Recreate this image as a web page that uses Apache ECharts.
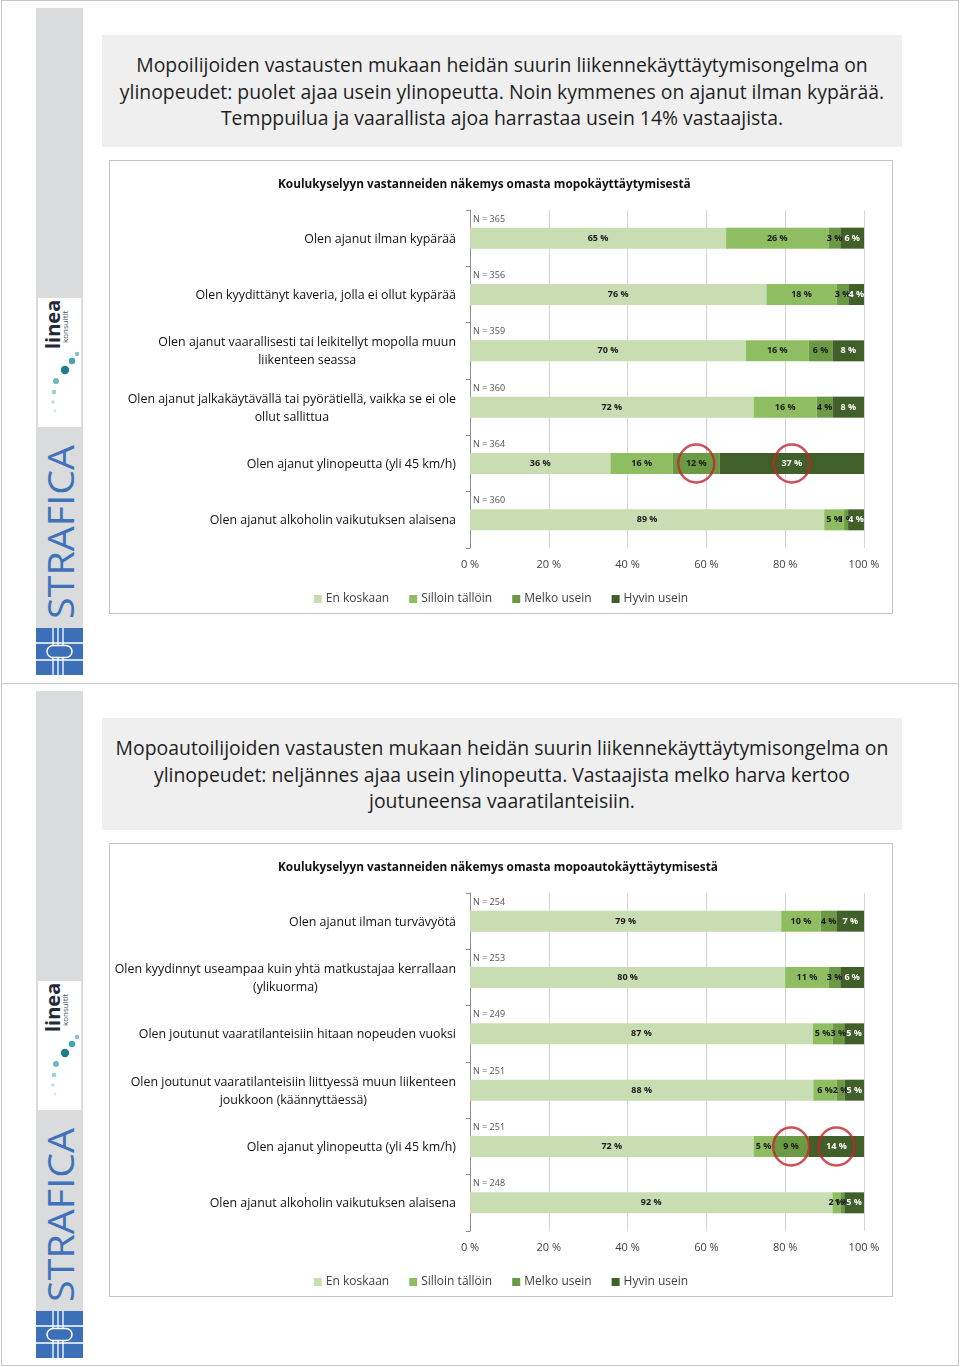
<!DOCTYPE html>
<html>
<head>
<meta charset="utf-8">
<script src="https://cdn.jsdelivr.net/npm/echarts@6/dist/echarts.min.js"></script>
<style>
  html, body { margin: 0; padding: 0; background: #fff; }
  body { width: 960px; height: 1367px; position: relative; overflow: hidden; font-family: 'Open Sans', sans-serif; }
  .slide { position: absolute; left: 0; width: 960px; height: 683px; }
  .frame { position: absolute; border: 1px solid #c8c8c8; }
  .side { position: absolute; left: 36px; width: 47px; background: #dadbdc; }
  .headline { position: absolute; left: 102px; top: 35px; width: 800px; height: 112px; background: #efefef;
    display: flex; align-items: center; justify-content: center; text-align: center;
    font-size: 19.4px; line-height: 26.5px; color: #1f1f1f; }
  .headline div { margin-top: 2px; }
  .chartbox { position: absolute; left: 109px; top: 160px; width: 782px; height: 452px; border: 1px solid #c4c4c4; background: #fff; }
  .chart { position: absolute; left: 0; top: 0; width: 782px; height: 452px; }
  svg { position: absolute; overflow: visible; }
</style>
</head>
<body>
<div class="frame" style="left:1px;top:0px;width:956px;height:682px;"></div>
<div class="frame" style="left:1px;top:683px;width:956px;height:682px;border-top:none;"></div>

<div class="slide" id="slide1" style="top:0px;"></div>
<div class="slide" id="slide2" style="top:683px;"></div>

<script>
// ---------- DATA ----------
const legendNames = ['En koskaan', 'Silloin tällöin', 'Melko usein', 'Hyvin usein'];
const xTickLabels = ['0 %', '20 %', '40 %', '60 %', '80 %', '100 %'];

const slide1Headline = ['Mopoilijoiden vastausten mukaan heidän suurin liikennekäyttäytymisongelma on',
  'ylinopeudet: puolet ajaa usein ylinopeutta. Noin kymmenes on ajanut ilman kypärää.',
  'Temppuilua ja vaarallista ajoa harrastaa usein 14% vastaajista.'];
const chart1Title = 'Koulukyselyyn vastanneiden näkemys omasta mopokäyttäytymisestä';
const chart1Categories = [
  'Olen ajanut ilman kypärää',
  'Olen kyydittänyt kaveria, jolla ei ollut kypärää',
  'Olen ajanut vaarallisesti tai leikitellyt mopolla muun\nliikenteen seassa',
  'Olen ajanut jalkakäytävällä tai pyörätiellä, vaikka se ei ole\nollut sallittua',
  'Olen ajanut ylinopeutta (yli 45 km/h)',
  'Olen ajanut alkoholin vaikutuksen alaisena'
];
const chart1N = [365, 356, 359, 360, 364, 360];
const chart1EnKoskaan = [65, 76, 70, 72, 36, 89];
const chart1SilloinTalloin = [26, 18, 16, 16, 16, 5];
const chart1MelkoUsein = [3, 3, 6, 4, 12, 1];
const chart1HyvinUsein = [6, 4, 8, 8, 37, 4];
const chart1Circled = [[4, 2], [4, 3]]; // [row, series]

const slide2Headline = ['Mopoautoilijoiden vastausten mukaan heidän suurin liikennekäyttäytymisongelma on',
  'ylinopeudet: neljännes ajaa usein ylinopeutta. Vastaajista melko harva kertoo',
  'joutuneensa vaaratilanteisiin.'];
const chart2Title = 'Koulukyselyyn vastanneiden näkemys omasta mopoautokäyttäytymisestä';
const chart2Categories = [
  'Olen ajanut ilman turvävyötä',
  'Olen kyydinnyt useampaa kuin yhtä matkustajaa kerrallaan\n(ylikuorma)',
  'Olen joutunut vaaratilanteisiin hitaan nopeuden vuoksi',
  'Olen joutunut vaaratilanteisiin liittyessä muun liikenteen\njoukkoon (käännyttäessä)',
  'Olen ajanut ylinopeutta (yli 45 km/h)',
  'Olen ajanut alkoholin vaikutuksen alaisena'
];
const chart2N = [254, 253, 249, 251, 251, 248];
const chart2EnKoskaan = [79, 80, 87, 88, 72, 92];
const chart2SilloinTalloin = [10, 11, 5, 6, 5, 2];
const chart2MelkoUsein = [4, 3, 3, 2, 9, 1];
const chart2HyvinUsein = [7, 6, 5, 5, 14, 5];
const chart2Circled = [[4, 2], [4, 3]];

// ---------- STYLE ----------
const segColors = ['#c8ddb2', '#8fbe62', '#6c9a44', '#405f29'];
const labelColors = ['#1a1a1a', '#1a1a1a', '#1a1a1a', '#ffffff'];
const FONT = "'Open Sans', sans-serif";

function buildSidebar(slide) {
  const side = document.createElement('div');
  side.className = 'side';
  side.style.top = '8px';
  side.style.height = '620px';
  slide.appendChild(side);
  const ns = 'http://www.w3.org/2000/svg';
  const svg = document.createElementNS(ns, 'svg');
  svg.setAttribute('width', '960'); svg.setAttribute('height', '683');
  svg.style.left = '0px'; svg.style.top = '0px';
  svg.innerHTML = `
    <rect x="38" y="298" width="43" height="129" fill="#ffffff"/>
    <text transform="translate(60,349) rotate(-90)" font-family="Open Sans, sans-serif" font-weight="bold" font-size="20" fill="#1f2a36">linea</text>
    <text transform="translate(68,343) rotate(-90)" font-family="Open Sans, sans-serif" font-size="8" fill="#3d4a55">konsultit</text>
    <circle cx="77" cy="354" r="2.2" fill="#7fc3c9"/>
    <circle cx="72" cy="361" r="3.2" fill="#47a3ad"/>
    <circle cx="65" cy="370" r="4.2" fill="#1e7f8c"/>
    <circle cx="56" cy="381" r="3" fill="#6cb7c0"/>
    <circle cx="54" cy="392" r="2.3" fill="#9ccfd5"/>
    <circle cx="53" cy="402" r="1.8" fill="#bfe0e3"/>
    <circle cx="55" cy="411" r="1.4" fill="#d6ebed"/>
    <text transform="translate(74,619) rotate(-90)" font-family="Open Sans, sans-serif" font-size="37" fill="#3f72bb" textLength="174" lengthAdjust="spacingAndGlyphs">STRAFICA</text>
    <rect x="36" y="628" width="47" height="47" fill="#3b6fb8"/>
    <line x1="36" y1="643" x2="83" y2="643" stroke="#ffffff" stroke-width="1.3"/>
    <line x1="36" y1="660" x2="83" y2="660" stroke="#ffffff" stroke-width="1.3"/>
    <line x1="53" y1="628" x2="53" y2="675" stroke="#ffffff" stroke-width="1.3"/>
    <line x1="58" y1="628" x2="58" y2="675" stroke="#ffffff" stroke-width="1.3"/>
    <line x1="63" y1="628" x2="63" y2="675" stroke="#ffffff" stroke-width="1.3"/>
    <rect x="47" y="645.5" width="25" height="12" rx="6" ry="6" fill="#3b6fb8" stroke="#ffffff" stroke-width="1.5"/>
  `;
  slide.appendChild(svg);
}

function buildSlide(slideId, headlineLines, title, categories, nValues, seriesArrays, circled) {
  const slide = document.getElementById(slideId);
  buildSidebar(slide);
  const head = document.createElement('div');
  head.className = 'headline';
  head.innerHTML = '<div>' + headlineLines.join('<br>') + '</div>';
  slide.appendChild(head);
  const box = document.createElement('div');
  box.className = 'chartbox';
  const el = document.createElement('div');
  el.className = 'chart';
  box.appendChild(el);
  slide.appendChild(box);

  // normalize each row to 100 % (100 % stacked bar)
  const sums = categories.map((_, i) => seriesArrays.reduce((s, arr) => s + arr[i], 0));
  const norm = seriesArrays.map(arr => arr.map((v, i) => v / sums[i] * 100));

  const barSeries = seriesArrays.map((arr, k) => ({
    name: legendNames[k],
    type: 'bar',
    stack: 'total',
    barWidth: 21,
    itemStyle: { color: segColors[k] },
    label: {
      show: true, position: 'inside',
      fontFamily: FONT, fontSize: 9, fontWeight: 'bold', color: labelColors[k],
      formatter: p => arr[p.dataIndex] + ' %'
    },
    emphasis: { disabled: true },
    data: norm[k]
  }));

  const nSeries = {
    type: 'scatter', symbolSize: 0, silent: true,
    data: nValues.map((n, i) => [0, i]),
    label: {
      show: true, position: 'right', distance: 3, offset: [0, -19],
      fontFamily: FONT, fontSize: 9, color: '#262626',
      formatter: p => 'N = ' + nValues[p.dataIndex]
    },
    z: 5
  };

  const circleSeries = {
    type: 'scatter', symbol: 'circle', symbolSize: [36, 38], silent: true,
    itemStyle: { color: 'rgba(0,0,0,0)', borderColor: '#c0272d', borderWidth: 2.5 },
    data: circled.map(([row, k]) => {
      let start = 0;
      for (let j = 0; j < k; j++) start += norm[j][row];
      return [start + norm[k][row] / 2, row];
    }),
    z: 10
  };

  const chart = echarts.init(el, null, { renderer: 'canvas' });
  chart.setOption({
    animation: false,
    textStyle: { fontFamily: FONT },
    title: {
      text: title, left: 163, top: 13,
      textStyle: { fontFamily: FONT, fontSize: 11.8, fontWeight: 'bold', color: '#111' }
    },
    legend: {
      data: legendNames, bottom: 3, left: 'center',
      itemWidth: 8, itemHeight: 8, itemGap: 20, icon: 'rect',
      textStyle: { fontFamily: FONT, fontSize: 12, color: '#404040', padding: [0, 0, 0, -1] }
    },
    grid: { left: 360, right: 28, top: 49, bottom: 65, containLabel: false, outerBoundsMode: 'none' },
    xAxis: {
      type: 'value', min: 0, max: 100, interval: 20,
      axisLine: { show: false }, axisTick: { show: false },
      axisLabel: {
        fontFamily: FONT, fontSize: 11, color: '#404040', margin: 11,
        formatter: v => xTickLabels[Math.round(v / 20)]
      },
      splitLine: { show: true, lineStyle: { color: '#d4d4d4', width: 1 } }
    },
    yAxis: {
      type: 'category', inverse: true, data: categories,
      axisLine: { show: true, lineStyle: { color: '#8c8c8c' } },
      axisTick: { show: true, length: 4, lineStyle: { color: '#8c8c8c' } },
      axisLabel: {
        margin: 14, align: 'right',
        fontFamily: FONT, fontSize: 12.4, color: '#111',
        formatter: v => v.split('\n').map(l => '{c|' + l + '}').join('\n'),
        rich: { c: { align: 'center', fontFamily: FONT, fontSize: 12.4, lineHeight: 18, color: '#111', padding: [2, 0, 0, 0] } }
      }
    },
    series: barSeries.concat([nSeries, circleSeries])
  });
}

buildSlide('slide1', slide1Headline, chart1Title, chart1Categories, chart1N,
  [chart1EnKoskaan, chart1SilloinTalloin, chart1MelkoUsein, chart1HyvinUsein], chart1Circled);
buildSlide('slide2', slide2Headline, chart2Title, chart2Categories, chart2N,
  [chart2EnKoskaan, chart2SilloinTalloin, chart2MelkoUsein, chart2HyvinUsein], chart2Circled);
</script>
</body>
</html>
